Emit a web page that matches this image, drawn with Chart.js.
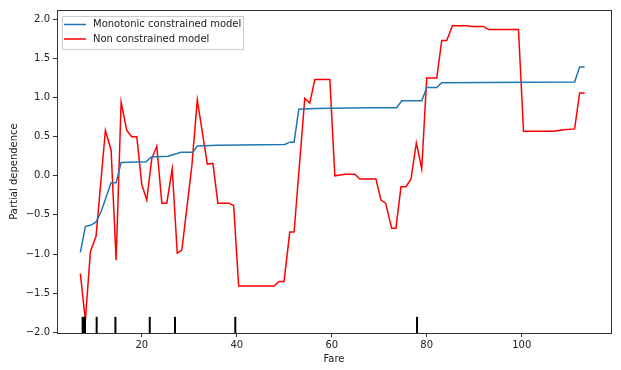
<!DOCTYPE html>
<html>
<head>
<meta charset="utf-8">
<script src="https://cdn.jsdelivr.net/npm/chart.js@4.4.1/dist/chart.umd.min.js"></script>
<style>
  html, body { margin: 0; padding: 0; background: #fff; }
  #wrap { width: 621px; height: 370px; }
</style>
</head>
<body>
<div id="wrap"><canvas id="pdChart"></canvas></div>
<script>
// values
var monoFare = [7.07, 8.12, 9.32, 10.38, 11.43, 13.54, 14.60, 15.65, 20.93, 21.98, 25.49, 26.54, 28.31, 30.76, 31.69, 36.03,
                50.11, 51.16, 52.07, 53.06, 56.43, 67.68, 73.67, 74.73, 78.95, 80.0, 82.11, 83.16, 111.14, 112.19, 113.25];
var monoPD = [-0.98, -0.65, -0.63, -0.59, -0.46, -0.09, -0.09, 0.17, 0.18, 0.24, 0.25, 0.27, 0.30, 0.30, 0.38, 0.39,
              0.40, 0.43, 0.43, 0.85, 0.86, 0.87, 0.87, 0.96, 0.96, 1.13, 1.13, 1.19, 1.20, 1.39, 1.39];

var freeFare = [7.07, 8.12, 9.18, 10.38, 12.34, 13.54, 14.60, 15.65, 16.84, 17.89, 18.95, 20.0, 21.05, 22.11, 23.16, 24.22,
                25.27, 26.41, 27.47, 28.44, 30.55, 31.69, 33.80, 34.98, 36.03, 38.35, 39.35, 40.4, 47.85, 48.9, 49.96,
                51.16, 52.07, 54.32, 55.38, 56.43, 59.6, 60.65, 62.76, 64.87, 65.93, 69.3, 70.36, 71.35, 72.62, 73.52,
                74.58, 75.63, 76.69, 77.81, 78.95, 80.0, 82.11, 83.16, 84.22, 85.4, 88.44, 89.49, 91.94, 93.0, 99.32,
                100.38, 106.71, 108.82, 111.14, 112.19, 113.25];
var freePD = [-1.25, -1.85, -0.97, -0.77, 0.58, 0.33, -1.08, 0.94, 0.58, 0.50, 0.50, -0.11, -0.31, 0.22, 0.38, -0.35,
              -0.35, 0.09, -0.99, -0.95, 0.13, 0.97, 0.15, 0.16, -0.35, -0.35, -0.38, -1.41, -1.41, -1.35, -1.35,
              -0.72, -0.72, 0.99, 0.93, 1.23, 1.23, 0.00, 0.02, 0.02, -0.04, -0.04, -0.31, -0.35, -0.67, -0.67,
              -0.14, -0.14, -0.04, 0.42, 0.09, 1.25, 1.25, 1.73, 1.73, 1.92, 1.92, 1.91, 1.91, 1.87, 1.87,
              0.57, 0.57, 0.59, 0.60, 1.06, 1.06];

var deciles = [7.55, 7.85, 8.05, 10.5, 14.45, 21.68, 27.0, 39.69, 77.96];

var xTicks = [20, 40, 60, 80, 100];
var yTicks = [-2.0, -1.5, -1.0, -0.5, 0.0, 0.5, 1.0, 1.5, 2.0];
var seriesNames = ['Monotonic constrained model', 'Non constrained model'];
var seriesColors = ['#1f77b4', '#ff0000'];

function toPoints(xs, ys) {
    return xs.map(function (x, i) { return { x: x, y: ys[i] }; });
}

var FONT = 'DejaVu Sans';

// rug of deciles + frame + legend box, drawn after datasets
var extras = {
    id: 'extras',
    afterDatasetsDraw: function (chart) {
        var ctx = chart.ctx;
        var xs = chart.scales.x, ys = chart.scales.y;
        var area = chart.chartArea;
        var y0 = ys.getPixelForValue(ys.min);
        var y1 = ys.getPixelForValue(ys.min + 0.05 * (ys.max - ys.min));
        ctx.save();
        ctx.strokeStyle = '#000';
        ctx.lineWidth = 2;
        deciles.forEach(function (d) {
            var px = xs.getPixelForValue(d);
            ctx.beginPath();
            ctx.moveTo(px, y0);
            ctx.lineTo(px, y1);
            ctx.stroke();
        });

        // box around the axes
        ctx.lineWidth = 1;
        ctx.strokeStyle = '#333';
        ctx.strokeRect(Math.round(area.left) + 0.5, Math.round(area.top) + 0.5,
                       Math.round(area.right - area.left), Math.round(area.bottom - area.top));

        // legend in the upper left corner
        var lx = area.left + 5, ly = area.top + 6;
        ctx.fillStyle = 'rgba(255,255,255,0.8)';
        ctx.strokeStyle = '#cccccc';
        ctx.beginPath();
        ctx.rect(lx + 0.5, ly + 0.5, 181, 33);
        ctx.fill();
        ctx.stroke();
        ctx.font = '10px ' + FONT;
        ctx.textBaseline = 'middle';
        ctx.textAlign = 'left';
        seriesNames.forEach(function (name, i) {
            var cy = ly + 8.5 + i * 14.5;
            ctx.strokeStyle = seriesColors[i];
            ctx.lineWidth = 1.5;
            ctx.beginPath();
            ctx.moveTo(lx + 2, cy);
            ctx.lineTo(lx + 24, cy);
            ctx.stroke();
            ctx.fillStyle = '#222';
            ctx.fillText(name, lx + 31, cy);
        });
        ctx.restore();
    }
};

new Chart(document.getElementById('pdChart').getContext('2d'), {
    type: 'line',
    data: {
        datasets: [
            {
                label: seriesNames[0],
                data: toPoints(monoFare, monoPD),
                borderColor: seriesColors[0],
                borderWidth: 1.5,
                pointRadius: 0,
                tension: 0
            },
            {
                label: seriesNames[1],
                data: toPoints(freeFare, freePD),
                borderColor: seriesColors[1],
                borderWidth: 1.5,
                pointRadius: 0,
                tension: 0
            }
        ]
    },
    options: {
        responsive: true,
        maintainAspectRatio: false,
        animation: false,
        layout: { padding: { top: 10, right: 10, left: 0, bottom: 0 } },
        plugins: {
            legend: { display: false },
            tooltip: { enabled: false }
        },
        scales: {
            x: {
                type: 'linear',
                min: 2.15,
                max: 118.8,
                afterBuildTicks: function (scale) {
                    scale.ticks = xTicks.map(function (v) { return { value: v }; });
                },
                afterFit: function (scale) { scale.height = 37; },
                grid: { drawOnChartArea: false, drawTicks: true, tickLength: 4, color: '#333' },
                border: { display: true, color: '#333' },
                ticks: { color: '#222', font: { family: FONT, size: 10 }, padding: 2, maxRotation: 0 },
                title: { display: true, text: 'Fare', color: '#222', font: { family: FONT, size: 10 }, padding: { top: 0, bottom: 5 } }
            },
            y: {
                min: -2.01,
                max: 2.12,
                afterBuildTicks: function (scale) {
                    scale.ticks = yTicks.map(function (v) { return { value: v }; });
                },
                afterFit: function (scale) { scale.width = 57; },
                grid: { drawOnChartArea: false, drawTicks: true, tickLength: 4, color: '#333' },
                border: { display: true, color: '#333' },
                ticks: {
                    color: '#222',
                    font: { family: FONT, size: 10 },
                    padding: 3,
                    callback: function (v) { return v.toFixed(1).replace('-', '\u2212'); }
                },
                title: { display: true, text: 'Partial dependence', color: '#222', font: { family: FONT, size: 10 }, padding: { top: 8, bottom: 0 } }
            }
        }
    },
    plugins: [extras]
});
</script>
</body>
</html>
